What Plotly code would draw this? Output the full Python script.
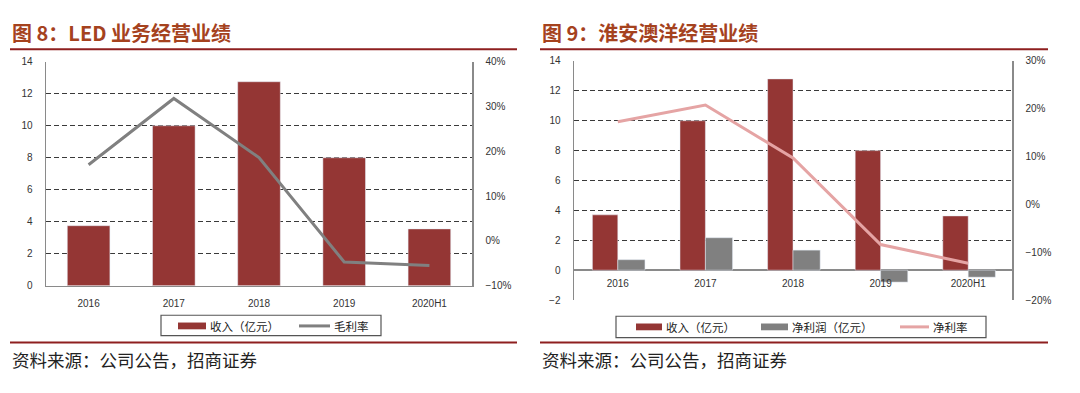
import plotly.graph_objects as go

# ---------------- data ----------------
categories = ["2016", "2017", "2018", "2019", "2020H1"]

led_revenue = [3.75, 10.0, 12.75, 8.0, 3.55]          # 收入（亿元）
led_gross_margin = [0.17, 0.318, 0.186, -0.047, -0.055]  # 毛利率

hy_revenue = [3.7, 10.0, 12.8, 8.0, 3.63]              # 收入（亿元）
hy_net_profit = [0.7, 2.17, 1.34, -0.8, -0.47]         # 净利润（亿元）
hy_net_margin = [0.173, 0.208, 0.097, -0.084, -0.123]   # 净利率

left_y_ticks = [0, 2, 4, 6, 8, 10, 12, 14]
right_y_ticks = [-2, 0, 2, 4, 6, 8, 10, 12, 14]

title_left = "图 8：LED 业务经营业绩"
title_right = "图 9：淮安澳洋经营业绩"
source_text = "资料来源：公司公告，招商证券"

# ---------------- styles ----------------
W, H = 1080, 393
RED = "#943634"
GRAY = "#808080"
PINK = "#E5A4A4"
TITLE_C = "#A5421E"
RULE_C = "#8E1F1F"
AXIS_C = "#8A8A8A"
GRID_C = "#3A3A3A"
TICK_FONT = dict(family="Liberation Sans Narrow, Liberation Sans, DejaVu Sans", size=10, color="#333333")
CJK = "Noto Sans CJK SC"


def fx(px):
    return px / W


def fy(py):
    return 1 - py / H


L_dom_x = [fx(46), fx(472)]
L_dom_y = [fy(288.5), fy(57.5)]
R_dom_x = [fx(574), fx(1012)]
R_dom_y = [fy(303.3), fy(56.7)]
zero_pos = R_dom_y[0] + (2 / 16) * (R_dom_y[1] - R_dom_y[0])

fig = go.Figure()

# left chart
fig.add_trace(go.Bar(x=categories, y=led_revenue, name="收入（亿元）", marker_color=RED,
                     width=0.5, xaxis="x", yaxis="y"))
fig.add_trace(go.Scatter(x=categories, y=led_gross_margin, name="毛利率", mode="lines",
                         line=dict(color=GRAY, width=3), xaxis="x", yaxis="y2"))

# right chart
fig.add_trace(go.Bar(x=categories, y=hy_revenue, name="收入（亿元）", marker_color=RED,
                     width=0.29, offset=-0.29, xaxis="x2", yaxis="y3"))
fig.add_trace(go.Bar(x=categories, y=hy_net_profit, name="净利润（亿元）", marker_color=GRAY,
                     width=0.31, offset=0.0, xaxis="x2", yaxis="y3"))
fig.add_trace(go.Scatter(x=categories, y=hy_net_margin, name="净利率", mode="lines",
                         line=dict(color=PINK, width=3), xaxis="x2", yaxis="y4"))

common_y = dict(showgrid=True, gridcolor=GRID_C, griddash="5px,3px", gridwidth=1,
                showline=True, linecolor=AXIS_C, linewidth=1.5, ticks="",
                tickfont=TICK_FONT, ticklabelstandoff=10, fixedrange=True)

fig.update_layout(
    width=W, height=H, margin=dict(l=0, r=0, t=0, b=0),
    paper_bgcolor="white", plot_bgcolor="white",
    barmode="overlay", showlegend=False,
    xaxis=dict(domain=L_dom_x, anchor="y", showline=True, linecolor=AXIS_C, linewidth=1.5,
               showgrid=False, ticks="", tickfont=TICK_FONT, ticklabelstandoff=8),
    yaxis=dict(domain=L_dom_y, anchor="x", range=[0, 14], tickvals=left_y_ticks,
               zeroline=False, **common_y),
    yaxis2=dict(domain=L_dom_y, anchor="x", overlaying="y", side="right", range=[-0.1, 0.4],
                dtick=0.1, tick0=0, tickformat=".0%", showgrid=False, zeroline=False,
                showline=True, linecolor=AXIS_C, linewidth=1.5, ticks="",
                tickfont=TICK_FONT, ticklabelstandoff=10),
    xaxis2=dict(domain=R_dom_x, anchor="free", position=zero_pos, showline=False,
                showgrid=False, ticks="", tickfont=TICK_FONT, ticklabelstandoff=6),
    yaxis3=dict(domain=R_dom_y, anchor="x2", range=[-2, 14], tickvals=right_y_ticks,
                zeroline=True, zerolinecolor=AXIS_C, zerolinewidth=1.5, **common_y),
    yaxis4=dict(domain=R_dom_y, anchor="x2", overlaying="y3", side="right", range=[-0.2, 0.3],
                dtick=0.1, tick0=0, tickformat=".0%", showgrid=False, zeroline=False,
                showline=True, linecolor=AXIS_C, linewidth=1.5, ticks="",
                tickfont=TICK_FONT, ticklabelstandoff=10),
)

# titles, rules and source
for x0, x1, title in [(10, 517, title_left), (540, 1048, title_right)]:
    fig.add_annotation(x=fx(x0), y=fy(27), xref="paper", yref="paper", xanchor="left",
                       yanchor="middle", text=f"<b>{title}</b>", showarrow=False,
                       font=dict(family=CJK, size=20, color=TITLE_C))
    fig.add_shape(type="line", xref="paper", yref="paper", x0=fx(x0), x1=fx(x1),
                  y0=fy(44.5), y1=fy(44.5), line=dict(color=RULE_C, width=2))
    fig.add_shape(type="line", xref="paper", yref="paper", x0=fx(x0), x1=fx(x1),
                  y0=fy(347), y1=fy(347), line=dict(color=RULE_C, width=2))
    fig.add_annotation(x=fx(x0), y=fy(365), xref="paper", yref="paper", xanchor="left",
                       yanchor="middle", text=source_text, showarrow=False,
                       font=dict(family=CJK, size=17.5, color="#222222"))


# legends drawn as boxed keys (one per chart), using the trace names and colours
def draw_legend(box, items, yc):
    bx0, bx1, by0, by1 = box
    fig.add_shape(type="rect", xref="paper", yref="paper", x0=fx(bx0), x1=fx(bx1),
                  y0=fy(by1), y1=fy(by0), line=dict(color="#555555", width=1.2),
                  fillcolor="white")
    for kind, color, sx0, sx1, label in items:
        if kind == "bar":
            fig.add_shape(type="rect", xref="paper", yref="paper", x0=fx(sx0), x1=fx(sx1),
                          y0=fy(yc + 3.5), y1=fy(yc - 3.5), line=dict(width=0),
                          fillcolor=color)
        else:
            fig.add_shape(type="line", xref="paper", yref="paper", x0=fx(sx0), x1=fx(sx1),
                          y0=fy(yc), y1=fy(yc), line=dict(color=color, width=3))
        fig.add_annotation(x=fx(sx1 + 2), y=fy(yc), xref="paper", yref="paper",
                           xanchor="left", yanchor="middle", text=label, showarrow=False,
                           font=dict(family=CJK, size=11.5, color="#222222"))


tr = fig.data
draw_legend((161, 381, 319, 340),
            [("bar", tr[0].marker.color, 178, 206, tr[0].name),
             ("line", tr[1].line.color, 299, 330, tr[1].name)], 330)
draw_legend((616, 986, 320, 342),
            [("bar", tr[2].marker.color, 636, 662, tr[2].name),
             ("bar", tr[3].marker.color, 761, 788, tr[3].name),
             ("line", tr[4].line.color, 900, 929, tr[4].name)], 331)

fig.write_html("out.html", config={"displayModeBar": False, "staticPlot": True},
               post_script="document.body.style.margin='0';document.body.style.overflow='hidden';")
